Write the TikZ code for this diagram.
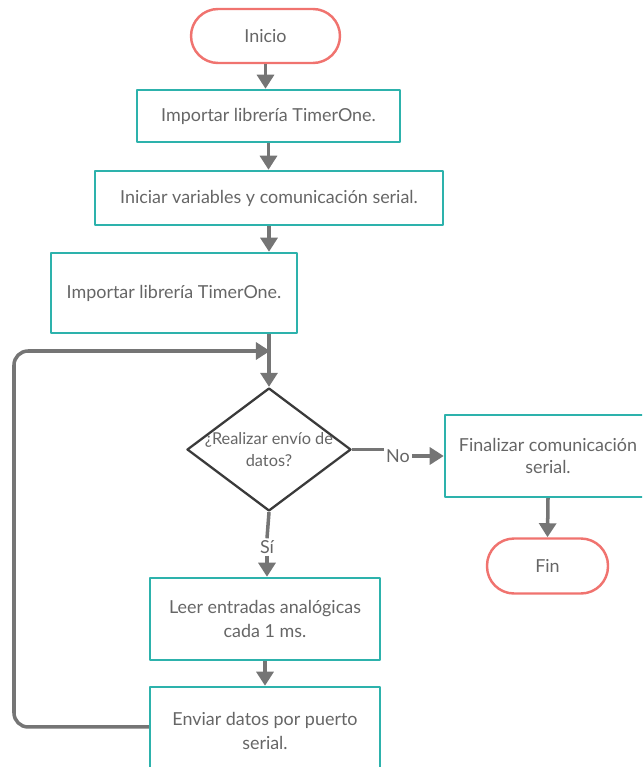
\documentclass[tikz,border=0pt]{standalone}
\usepackage{fontspec}
\setmainfont{Lato}
\usetikzlibrary{arrows.meta,shapes.geometric}
\definecolor{boxline}{HTML}{2DB2AC}
\definecolor{termline}{HTML}{F0736F}
\definecolor{decline}{HTML}{3A3A3A}
\definecolor{arrowgray}{HTML}{757575}
\definecolor{txtgray}{HTML}{666666}
\tikzset{
  every picture/.style={font=\fontsize{10.2}{14}\selectfont, line join=round, >={Triangle[width=9.6pt,length=8pt]}},
  procbox/.style={draw=boxline, line width=1.4pt, fill=white, text=txtgray, align=center, inner sep=0pt},
  termbox/.style={draw=termline, line width=1.4pt, fill=white, text=txtgray, rounded corners=0.54cm, inner sep=0pt},
  decbox/.style={diamond, draw=decline, line width=1.3pt, fill=white, inner sep=0pt},
  lbl/.style={text=txtgray, align=center, inner sep=1pt},
  flow/.style={->, draw=arrowgray, line width=2pt},
  link/.style={draw=arrowgray, line width=2pt},
}

\begin{document}
\begin{tikzpicture}[x=0.02cm, y=-0.02cm]
\useasboundingbox (0,0) rectangle (642,767);
\clip (0,0) rectangle (642,767);
\node[termbox, minimum width=2.98cm, minimum height=1.08cm] (inicio) at (265.5,36) {Inicio};
\node[procbox, minimum width=5.26cm, minimum height=1.04cm] (imp1) at (268.5,116) {Importar librería TimerOne.};
\node[procbox, minimum width=6.96cm, minimum height=1.08cm] (ini) at (269,198) {Iniciar variables y comunicación serial.};
\node[procbox, minimum width=4.92cm, minimum height=1.6cm] (imp2) at (174,293) {Importar librería TimerOne.};
\node[decbox, minimum width=3.28cm, minimum height=2.46cm] (dec) at (269,449.5) {};
\node[lbl, font=\fontsize{9.3}{13}\selectfont] (dectxt) at (dec.center) {¿Realizar envío de\\datos?};
\node[lbl] (no) at (398,456) {No};
\node[procbox, minimum width=4.12cm, minimum height=1.64cm, font=\fontsize{10.2}{13}\selectfont] (finz) at (548,456) {Finalizar comunicación\\serial.};
\node[termbox, minimum width=2.42cm, minimum height=1.1cm] (fin) at (547.5,566) {Fin};
\node[lbl] (si) at (267,547) {Sí};
\node[procbox, minimum width=4.6cm, minimum height=1.64cm] (leer) at (265,619) {Leer entradas analógicas\\cada 1 ms.};
\node[procbox, minimum width=4.6cm, minimum height=1.76cm] (env) at (265,731) {Enviar datos por puerto\\serial.};
\coordinate (izq) at (14,351);
\coordinate (union) at (270,351);

\draw[flow] (inicio.south) -- (inicio.south |- imp1.north);
\draw[flow] (imp1.south) -- (imp1.south |- ini.north);
\draw[flow] (ini.south) -- (ini.south |- imp2.north);
\draw[flow] (dec.north |- imp2.south) -- (dec.north);
\draw[flow, rounded corners=8pt] ([yshift=2.3pt]env.west) -| (izq) -- (union);
\draw[link] (dec.east) -- (dec.east -| no.west);
\draw[flow] (no.east) -- (no.east -| finz.west);
\draw[flow] (finz.south) -- (fin.north);
\draw[link] (dec.south) -- (si.north);
\draw[flow] (si.south) -- (si.south |- leer.north);
\draw[flow] (leer.south) -- (env.north);
\end{tikzpicture}
\end{document}
